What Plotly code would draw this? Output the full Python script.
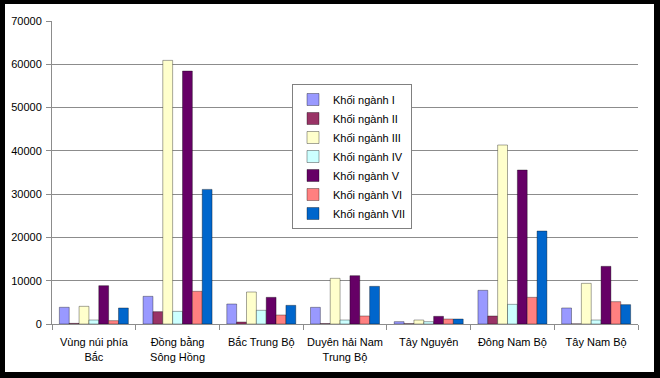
import plotly.graph_objects as go

categories = ["Vùng núi phía<br>Bắc", "Đồng bằng<br>Sông Hồng", "Bắc Trung Bộ",
              "Duyên hải Nam<br>Trung Bộ", "Tây Nguyên", "Đông Nam Bộ", "Tây Nam Bộ"]
series_names = ["Khối ngành I", "Khối ngành II", "Khối ngành III", "Khối ngành IV",
                "Khối ngành V", "Khối ngành VI", "Khối ngành VII"]
khoi_I = [3860, 6390, 4620, 3850, 540, 7780, 3700]
khoi_II = [150, 2850, 460, 100, 80, 1850, 30]
khoi_III = [4080, 60900, 7390, 10550, 920, 41350, 9390]
khoi_IV = [920, 2920, 3160, 920, 540, 4540, 920]
khoi_V = [8850, 58440, 6160, 11160, 1770, 35570, 13320]
khoi_VI = [770, 7550, 2080, 1850, 1150, 6160, 5160]
khoi_VII = [3700, 31100, 4310, 8700, 1150, 21480, 4470]
y_ticks = [0, 10000, 20000, 30000, 40000, 50000, 60000, 70000]

values = [khoi_I, khoi_II, khoi_III, khoi_IV, khoi_V, khoi_VI, khoi_VII]
colors = ["#9999FF", "#993366", "#FFFFCC", "#CCFFFF", "#660066", "#FF8080", "#0066CC"]

fig = go.Figure()
for name, vals, col in zip(series_names, values, colors):
    fig.add_trace(go.Bar(x=categories, y=vals, name=name,
                         marker=dict(color=col, line=dict(color="rgba(0,0,0,0.35)", width=1))))

font = "Liberation Sans, Arial, sans-serif"
FS = 11
L, R, T, B = 52, 22, 21, 54
W, H = 660, 378
pw, ph = W - L - R, H - T - B

fig.update_layout(
    width=W, height=H,
    margin=dict(l=L, r=R, t=T, b=B, autoexpand=False),
    paper_bgcolor="black",
    plot_bgcolor="white",
    barmode="group", bargap=0.176, bargroupgap=0,
    font=dict(family=font, size=FS, color="black"),
    showlegend=True,
    legend=dict(x=(292 - L) / pw, y=(H - B - 84) / ph, xanchor="left", yanchor="top",
                bgcolor="white", bordercolor="#808080", borderwidth=1,
                font=dict(family=font, size=FS, color="black"),
                tracegroupgap=0, itemwidth=30),
    shapes=[dict(type="rect", xref="paper", yref="paper", layer="below",
                 x0=(5 - L) / pw, x1=(654 - L) / pw,
                 y0=(H - B - 372) / ph, y1=(H - B - 4) / ph,
                 fillcolor="white", line=dict(width=0))],
)
fig.update_yaxes(range=[0, 70000], tickvals=y_ticks, ticktext=[str(v) for v in y_ticks],
                 showgrid=True, gridcolor="#8c8c8c", gridwidth=1,
                 showline=True, linecolor="#8c8c8c", linewidth=1,
                 ticks="outside", ticklen=5, tickcolor="#8c8c8c", automargin=False,
                 ticklabelstandoff=2,
                 tickfont=dict(family=font, size=FS, color="black"), zeroline=False)
fig.update_xaxes(showgrid=False, showline=True, linecolor="#8c8c8c", linewidth=1,
                 ticks="outside", ticklen=5, tickcolor="#8c8c8c", tickson="boundaries",
                 tickangle=0, automargin=False, ticklabelstandoff=8,
                 tickfont=dict(family=font, size=FS, color="black"))

fig.write_html("out.html", config={"displayModeBar": False},
               post_script="document.body.style.margin='0';document.body.style.overflow='hidden';")
